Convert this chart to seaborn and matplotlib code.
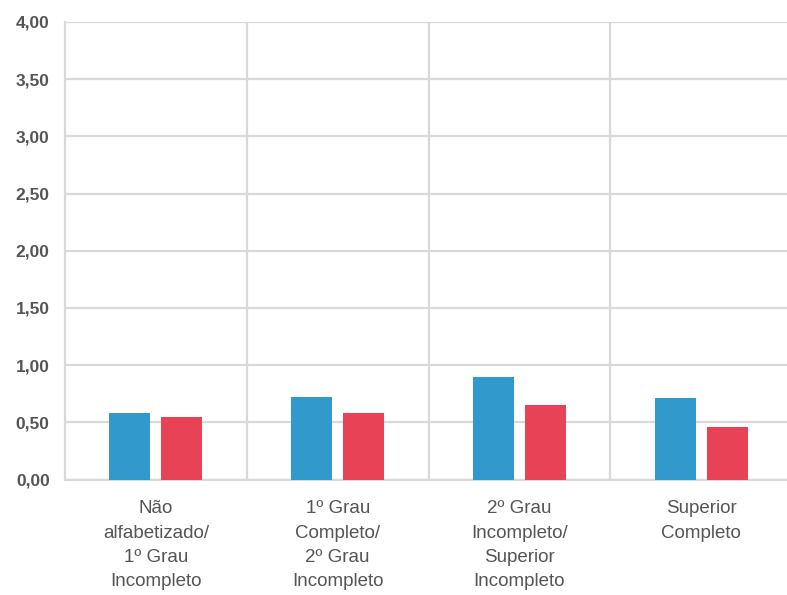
import matplotlib
matplotlib.use("Agg")
import matplotlib.pyplot as plt
import pandas as pd
import seaborn as sns

categorias = [
    "Não\nalfabetizado/\n1º Grau\nIncompleto",
    "1º Grau\nCompleto/\n2º Grau\nIncompleto",
    "2º Grau\nIncompleto/\nSuperior\nIncompleto",
    "Superior\nCompleto",
]
serie_azul = [0.58, 0.72, 0.90, 0.71]
serie_vermelha = [0.55, 0.58, 0.65, 0.46]
nomes_series = ["Série 1", "Série 2"]
yticks = [0.0, 0.5, 1.0, 1.5, 2.0, 2.5, 3.0, 3.5, 4.0]
ytick_labels = ["0,00", "0,50", "1,00", "1,50", "2,00", "2,50", "3,00", "3,50", "4,00"]

df = pd.DataFrame({
    "categoria": categorias * 2,
    "valor": serie_azul + serie_vermelha,
    "serie": [nomes_series[0]] * 4 + [nomes_series[1]] * 4,
})

sns.set_style("white")
plt.rcParams["font.family"] = ["Liberation Sans", "DejaVu Sans"]

grid_color = "#d9d9d9"

fig = plt.figure(figsize=(7.87, 5.95), dpi=100)
W, H = 787, 595
left, right, top, bottom = 65, 787, 22, 479.5
ax = fig.add_axes([left / W, 1 - bottom / H, (right - left) / W, (bottom - top) / H])

sns.barplot(
    data=df, x="categoria", y="valor", hue="serie",
    palette=["#3299cc", "#e84257"], saturation=1, width=0.573, gap=0.21,
    legend=False, ax=ax, zorder=3, linewidth=0,
)

ax.set_ylim(0, 4)
ax.set_xlim(-0.5, 3.5 - 5 / 181.5)
ax.set_yticks(yticks)
ax.set_yticklabels(ytick_labels, fontsize=12.5, fontweight="bold", color="#555555")
ax.tick_params(axis="y", length=0, pad=11)
ax.tick_params(axis="x", length=0, pad=15)
for lbl in ax.get_xticklabels():
    lbl.set_fontsize(13.5)
    lbl.set_color("#555555")
    lbl.set_linespacing(1.56)

ax.yaxis.grid(True, color=grid_color, linewidth=1.6, zorder=0)
ax.xaxis.grid(False)
for xv in [0.5, 1.5, 2.5]:
    ax.axvline(xv, color=grid_color, linewidth=1.6, zorder=0)

for side in ["top", "right"]:
    ax.spines[side].set_visible(False)
for side in ["left", "bottom"]:
    ax.spines[side].set_color(grid_color)
    ax.spines[side].set_linewidth(1.6)
    ax.spines[side].set_zorder(1)

ax.set_xlabel("")
ax.set_ylabel("")

fig.savefig("out.png", dpi=100)
